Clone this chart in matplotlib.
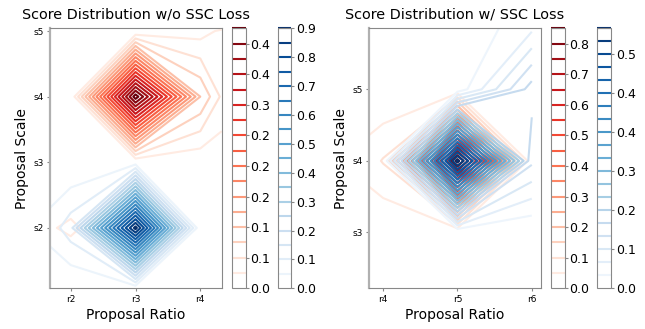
import numpy as np
import matplotlib
matplotlib.use("Agg")
import matplotlib.pyplot as plt

# grid of the left panel (edges of the plot are grid points too)
x_left = [1.68, 2, 3, 4, 4.33]
y_left = [1.08, 2, 3, 4, 5, 5.04]

# score distribution w/o SSC loss
red_left = [
    [0.000, 0.000, 0.000, 0.000, 0.000],
    [0.023, 0.029, 0.000, 0.000, 0.000],
    [0.000, 0.000, 0.000, 0.005, 0.007],
    [0.000, 0.000, 0.440, 0.100, 0.045],
    [0.000, 0.000, 0.000, 0.014, 0.030],
    [0.000, 0.000, 0.000, 0.010, 0.020],
]
blue_left = [
    [0.000, 0.000, 0.011, 0.000, 0.000],
    [0.072, 0.130, 0.920, 0.000, 0.000],
    [0.000, 0.000, 0.020, 0.000, 0.000],
    [0.000, 0.000, 0.000, 0.000, 0.000],
    [0.000, 0.000, 0.000, 0.000, 0.000],
    [0.000, 0.000, 0.000, 0.000, 0.000],
]

# grid of the right panel
x_right = [3.81, 4, 5, 6]
y_right = [2.22, 3, 4, 5, 5.85]

# score distribution w/ SSC loss
red_right = [
    [0.000, 0.000, 0.000, 0.000],
    [0.000, 0.000, 0.000, 0.000],
    [0.078, 0.104, 0.870, 0.000],
    [0.000, 0.000, 0.000, 0.000],
    [0.000, 0.000, 0.000, 0.000],
]
blue_right = [
    [0.000, 0.000, 0.000, 0.000],
    [0.000, 0.000, 0.000, 0.000],
    [0.000, 0.000, 0.600, 0.125],
    [0.000, 0.000, 0.009, 0.162],
    [0.000, 0.000, 0.000, 0.053],
]

# contour level step and number of levels of each colour bar
levels_red_left = (0.025, 18)
levels_blue_left = (0.05, 19)
levels_red_right = (0.05, 18)
levels_blue_right = (0.0295, 21)

left_ticks = ([2, 3, 4], ["r2", "r3", "r4"], [2, 3, 4, 5], ["s2", "s3", "s4", "s5"])
right_ticks = ([4, 5, 6], ["r4", "r5", "r6"], [3, 4, 5], ["s3", "s4", "s5"])

edge = "#888888"

fig = plt.figure(figsize=(6.45, 3.29), dpi=100)


def draw_contour(ax, X, Y, z, lev, cmap):
    levels = np.arange(lev[1]) * lev[0]
    # the 0.0 level is kept for the colour bar but not drawn
    widths = [0] + [1.5] * (lev[1] - 1)
    return ax.contour(X, Y, np.array(z), levels=levels, cmap=cmap, linewidths=widths)


def panel(ax_rect, cb1_rect, cb2_rect, xs, ys, zr, zb, lr, lb, ticks, title, xlim, ylim):
    ax = fig.add_axes(ax_rect)
    X, Y = np.meshgrid(xs, ys)
    cr = draw_contour(ax, X, Y, zr, lr, "Reds")
    cb = draw_contour(ax, X, Y, zb, lb, "Blues")
    ax.set_xlim(*xlim)
    ax.set_ylim(*ylim)
    ax.set_xticks(ticks[0])
    ax.set_xticklabels(ticks[1])
    ax.set_yticks(ticks[2])
    ax.set_yticklabels(ticks[3])
    ax.tick_params(labelsize=6.5, color=edge, length=2.5, pad=2)
    for s in ax.spines.values():
        s.set_color(edge)
        s.set_linewidth(0.8)
    ax.spines["left"].set_color("#b0b0b0")
    ax.spines["left"].set_linewidth(1.6)
    ax.set_title(title, fontsize=10.4, pad=7)
    ax.set_xlabel("Proposal Ratio", fontsize=10, labelpad=3)
    ax.set_ylabel("Proposal Scale", fontsize=10, labelpad=3)

    for rect, cs in ((cb1_rect, cr), (cb2_rect, cb)):
        cax = fig.add_axes(rect)
        bar = fig.colorbar(cs, cax=cax, format="%.1f")
        bar.outline.set_edgecolor(edge)
        bar.outline.set_linewidth(0.8)
        cax.tick_params(labelsize=9, color=edge, length=2, pad=1.5)
    return ax


panel([0.0775, 0.1237, 0.2662, 0.790], [0.3597, 0.1237, 0.0212, 0.790],
      [0.4305, 0.1237, 0.0212, 0.790], x_left, y_left, red_left, blue_left,
      levels_red_left, levels_blue_left, left_ticks,
      "Score Distribution w/o SSC Loss", (1.68, 4.33), (1.08, 5.04))

panel([0.5721, 0.1237, 0.2662, 0.790], [0.8538, 0.1237, 0.0217, 0.790],
      [0.9251, 0.1237, 0.0222, 0.790], x_right, y_right, red_right, blue_right,
      levels_red_right, levels_blue_right, right_ticks,
      "Score Distribution w/ SSC Loss", (3.81, 6.12), (2.22, 5.85))

fig.savefig("out.png", dpi=100)
